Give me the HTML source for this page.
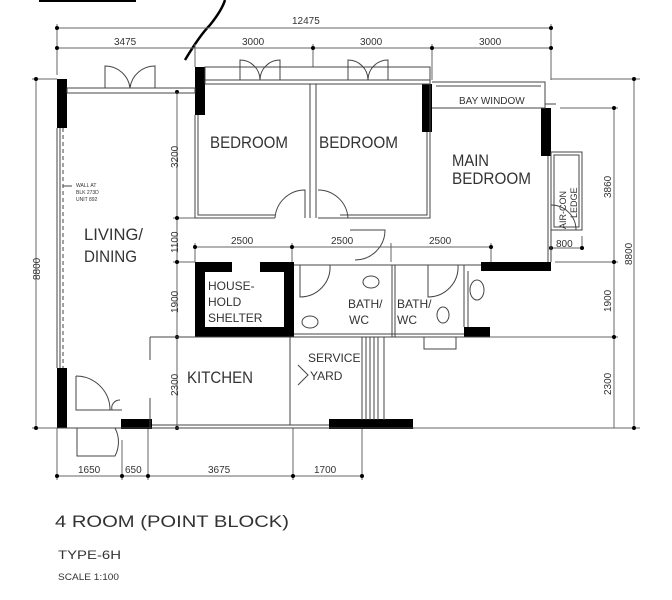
<!DOCTYPE html>
<html><head><meta charset="utf-8"><style>
html,body{margin:0;padding:0;background:#fff;}
svg{display:block;}
text{font-family:"Liberation Sans",sans-serif;fill:#333;}
</style></head><body>
<svg width="672" height="600" viewBox="0 0 672 600" xmlns="http://www.w3.org/2000/svg">
<rect x="39" y="0" width="97" height="2" fill="#000"/>
<path d="M185 60 Q200 35 210 25 Q222 10 225 0" stroke="#000" stroke-width="2.5" fill="none"/>
<g stroke="#666" stroke-width="1" fill="none">
<line x1="57" y1="28" x2="551" y2="28"/>
<line x1="57" y1="48" x2="551" y2="48"/>
<line x1="57" y1="24" x2="57" y2="75"/><line x1="195" y1="44" x2="195" y2="67"/>
<line x1="313" y1="44" x2="313" y2="67"/><line x1="432" y1="44" x2="432" y2="80"/>
<line x1="551" y1="24" x2="551" y2="80"/>
<line x1="36" y1="79" x2="36" y2="428"/>
<line x1="32" y1="79" x2="57" y2="79"/><line x1="32" y1="428" x2="57" y2="428"/>
<line x1="551" y1="79" x2="640" y2="79"/><line x1="634" y1="79" x2="634" y2="428"/>
<line x1="560" y1="108" x2="618" y2="108"/><line x1="614" y1="108" x2="614" y2="428"/>
<line x1="555" y1="262" x2="618" y2="262"/><line x1="490" y1="337" x2="618" y2="337"/>
<line x1="414" y1="428" x2="640" y2="428"/>
<line x1="551" y1="248" x2="582" y2="248"/><line x1="582" y1="236" x2="582" y2="250"/>
<line x1="177" y1="92" x2="177" y2="428"/>
<line x1="173" y1="218" x2="195" y2="218"/><line x1="173" y1="262" x2="195" y2="262"/><line x1="173" y1="337" x2="195" y2="337"/>
<line x1="195" y1="247" x2="491" y2="247"/>
<line x1="195" y1="243" x2="195" y2="262"/><line x1="292" y1="243" x2="292" y2="262"/>
<line x1="391" y1="243" x2="391" y2="262"/><line x1="491" y1="243" x2="491" y2="262"/>
<line x1="57" y1="476" x2="362" y2="476"/>
<line x1="57" y1="428" x2="57" y2="480"/><line x1="122" y1="440" x2="122" y2="480"/>
<line x1="148" y1="428" x2="148" y2="480"/><line x1="293" y1="428" x2="293" y2="480"/>
<line x1="362" y1="428" x2="362" y2="480"/>
</g>
<g fill="#000">
<circle cx="57" cy="28" r="2"/><circle cx="551" cy="28" r="2"/>
<circle cx="57" cy="48" r="2"/><circle cx="313" cy="48" r="2"/><circle cx="432" cy="48" r="2"/><circle cx="551" cy="48" r="2"/>
<circle cx="36" cy="79" r="2"/><circle cx="36" cy="428" r="2"/>
<circle cx="634" cy="79" r="2"/><circle cx="614" cy="108" r="2"/><circle cx="614" cy="262" r="2"/><circle cx="614" cy="337" r="2"/><circle cx="634" cy="428" r="2"/>
<circle cx="177" cy="92" r="2"/><circle cx="177" cy="218" r="2"/><circle cx="177" cy="262" r="2"/><circle cx="177" cy="337" r="2"/><circle cx="177" cy="428" r="2"/>
<circle cx="195" cy="247" r="2"/><circle cx="292" cy="247" r="2"/><circle cx="491" cy="247" r="2"/>
<circle cx="551" cy="248" r="2"/><circle cx="582" cy="248" r="2"/>
<circle cx="57" cy="476" r="2"/><circle cx="122" cy="476" r="2"/><circle cx="148" cy="476" r="2"/><circle cx="293" cy="476" r="2"/><circle cx="362" cy="476" r="2"/>
<rect x="57" y="79" width="10" height="49"/>
<rect x="195" y="67" width="10" height="48"/>
<rect x="422" y="84" width="10" height="48"/>
<rect x="541" y="108" width="10" height="48"/>
<rect x="481" y="262" width="70" height="9"/>
<rect x="464" y="327" width="26" height="10"/>
<rect x="57" y="368" width="10" height="60"/>
<rect x="121" y="419" width="31" height="10"/>
<rect x="329" y="419" width="84" height="10"/>
<path d="M195 262 H232 V272 H205 V327 H284 V272 H260 V262 H294 V337 H195 Z"/>
</g>
<g stroke="#444" stroke-width="1" fill="none">
<rect x="67" y="88" width="128" height="5"/>
<path d="M105 88 V66 A25 25 0 0 1 130 88 M155 88 V66 A25 25 0 0 0 130 88"/>
<rect x="205" y="67" width="225" height="17"/>
<line x1="205" y1="80" x2="430" y2="80"/>
<path d="M240 80 V60 A20 20 0 0 1 260 80 M280 80 V60 A20 20 0 0 0 260 80"/>
<path d="M348 80 V60 A20 20 0 0 1 368 80 M388 80 V60 A20 20 0 0 0 368 80"/>
<path d="M195 115 V218 H275 M198 115 V215 H275"/>
<path d="M310 84 V218 M316 84 V218"/>
<path d="M430 84 V218 H318 M427 132 V215 H340"/>
<path d="M275 218 A30 30 0 0 1 305 190 V218 M318 190 A30 30 0 0 1 348 218"/>
<path d="M355 260 A30 30 0 0 0 385 230 H350"/>
<path d="M432 82 H545 V108 H432"/><line x1="436" y1="86" x2="541" y2="86"/>
<line x1="545" y1="104" x2="556" y2="104"/>
<path d="M548 156 V262 M551 156 V262"/>
<rect x="551" y="152" width="31" height="78"/><rect x="554" y="155" width="25" height="72"/>
<path d="M551 205 A25 25 0 0 1 576 230"/>
<line x1="294" y1="265" x2="481" y2="265"/>
<path d="M392 265 V337 M395 265 V337 M464 265 V327 M468 271 V327"/>
<line x1="294" y1="334" x2="464" y2="334"/>
<path d="M300 265 V297 A30 30 0 0 0 330 265"/>
<path d="M428 265 V297 A30 30 0 0 0 458 265"/>
<ellipse cx="371" cy="282" rx="8" ry="6"/><ellipse cx="443" cy="315" rx="6" ry="8"/>
<ellipse cx="310" cy="322" rx="8" ry="6"/><ellipse cx="477" cy="290" rx="7" ry="10"/>
<rect x="424" y="337" width="32" height="12"/>
<line x1="150" y1="337" x2="490" y2="337"/>
<path d="M150 337 V360 M150 398 V428"/>
<path d="M290 337 V425"/>
<path d="M362 337 V420 M366 337 V420 M370 337 V420 M374 337 V420 M378 337 V420 M384 337 V420"/>
<path d="M298 365 L308 375 L298 385"/>
<path d="M57 428 H414 M152 425 H329"/>
<path d="M57 128 V368 M60 128 V368" />
<path d="M63 128 V368" stroke-dasharray="4 3"/>
<line x1="63" y1="186" x2="72" y2="186"/>
<path d="M76 376 V410 H122 M76 376 A34 34 0 0 1 110 410"/>
<path d="M77 428 V456 H115 A30 30 0 0 0 115 428"/>
<path d="M112 410 A8 8 0 0 1 120 400"/>
</g>
<g font-size="17">
<text x="210" y="148" textLength="78" lengthAdjust="spacingAndGlyphs">BEDROOM</text>
<text x="319" y="148" textLength="79" lengthAdjust="spacingAndGlyphs">BEDROOM</text>
<text x="452" y="166" textLength="37" lengthAdjust="spacingAndGlyphs">MAIN</text><text x="452" y="184" textLength="79" lengthAdjust="spacingAndGlyphs">BEDROOM</text>
<text x="84" y="240" textLength="59" lengthAdjust="spacingAndGlyphs">LIVING/</text><text x="84" y="262" textLength="53" lengthAdjust="spacingAndGlyphs">DINING</text>
<text x="187" y="383" textLength="66" lengthAdjust="spacingAndGlyphs">KITCHEN</text>
</g>
<g font-size="12">
<text x="208" y="290">HOUSE-</text><text x="208" y="306">HOLD</text><text x="208" y="322">SHELTER</text>
<text x="348" y="308">BATH/</text><text x="349" y="324">WC</text>
<text x="397" y="308">BATH/</text><text x="397" y="324">WC</text>
<text x="308" y="362">SERVICE</text><text x="310" y="380">YARD</text>
</g>
<text x="459" y="104" font-size="10">BAY WINDOW</text>
<text font-size="9" transform="translate(566,229) rotate(-90)">AIR-CON</text>
<text font-size="9" transform="translate(577,218) rotate(-90)">LEDGE</text>
<g font-size="5" fill="#777"><text x="76" y="187">WALL AT</text><text x="76" y="194">BLK 273D</text><text x="76" y="201">UNIT 892</text></g>
<g font-size="10">
<text x="292" y="24">12475</text>
<text x="114" y="45">3475</text><text x="242" y="45">3000</text><text x="360" y="45">3000</text><text x="479" y="45">3000</text>
<text x="231" y="244">2500</text><text x="331" y="244">2500</text><text x="429" y="244">2500</text>
<text x="556" y="247">800</text>
<text x="78" y="473">1650</text><text x="125" y="473">650</text><text x="208" y="473">3675</text><text x="314" y="473">1700</text>
<text transform="translate(40,280) rotate(-90)">8800</text>
<text transform="translate(632,265) rotate(-90)">8800</text>
<text transform="translate(611,198) rotate(-90)">3860</text>
<text transform="translate(611,312) rotate(-90)">1900</text>
<text transform="translate(611,395) rotate(-90)">2300</text>
<text transform="translate(178,168) rotate(-90)">3200</text>
<text transform="translate(178,253) rotate(-90)">1100</text>
<text transform="translate(178,313) rotate(-90)">1900</text>
<text transform="translate(178,396) rotate(-90)">2300</text>
</g>
<text x="55" y="527" font-size="17" textLength="234" lengthAdjust="spacingAndGlyphs">4 ROOM (POINT BLOCK)</text>
<text x="58" y="559" font-size="12" textLength="63" lengthAdjust="spacingAndGlyphs">TYPE-6H</text>
<text x="58" y="580" font-size="9" textLength="61" lengthAdjust="spacingAndGlyphs">SCALE 1:100</text>
</svg>
</body></html>
